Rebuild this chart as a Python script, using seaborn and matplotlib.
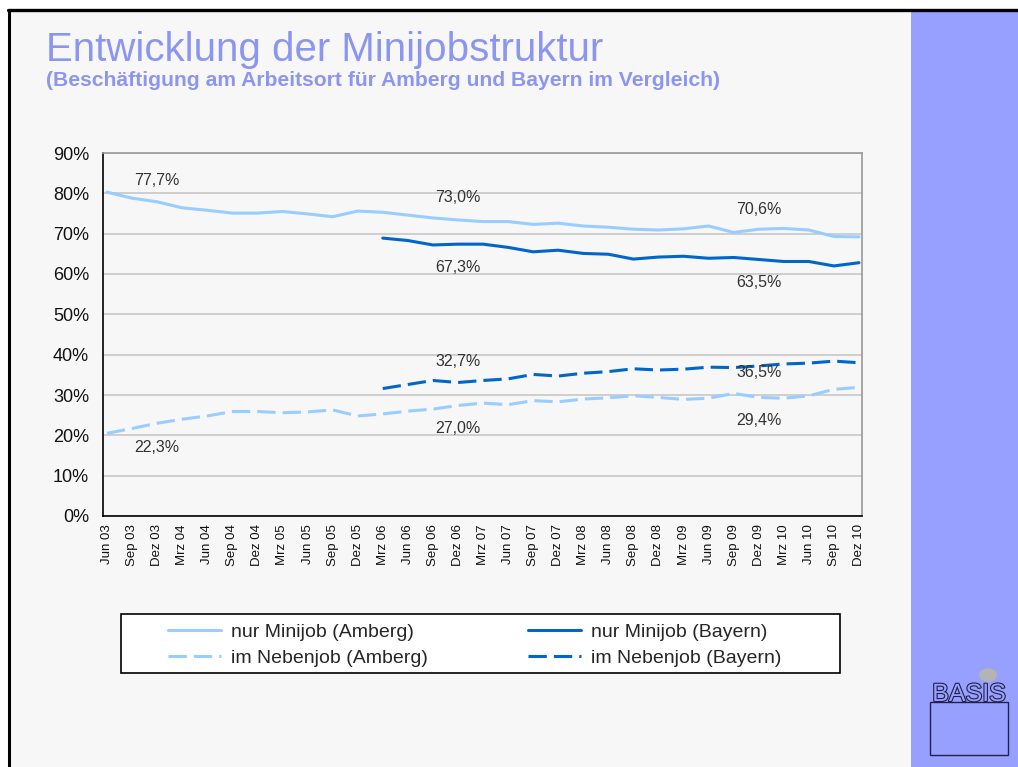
import numpy as np
import pandas as pd
import seaborn as sns
import matplotlib.pyplot as plt
import matplotlib.patheffects as pe
from matplotlib.patches import Rectangle, Circle
from matplotlib.lines import Line2D

# Quartale (Beschäftigung am Arbeitsort)
quartale = ['Jun 03', 'Sep 03', 'Dez 03',
            'Mrz 04', 'Jun 04', 'Sep 04', 'Dez 04',
            'Mrz 05', 'Jun 05', 'Sep 05', 'Dez 05',
            'Mrz 06', 'Jun 06', 'Sep 06', 'Dez 06',
            'Mrz 07', 'Jun 07', 'Sep 07', 'Dez 07',
            'Mrz 08', 'Jun 08', 'Sep 08', 'Dez 08',
            'Mrz 09', 'Jun 09', 'Sep 09', 'Dez 09',
            'Mrz 10', 'Jun 10', 'Sep 10', 'Dez 10']

# Anteile in %
nur_minijob_amberg = [80.3, 78.8, 77.9, 76.4, 75.8, 75.1, 75.1, 75.5, 74.9, 74.2,
                      75.6, 75.3, 74.6, 73.9, 73.4, 73.0, 73.0, 72.3, 72.6, 71.9,
                      71.6, 71.1, 70.9, 71.2, 71.9, 70.3, 71.1, 71.3, 70.9, 69.3, 69.2]
nebenjob_amberg = [20.5, 21.7, 23.0, 24.0, 24.8, 25.9, 25.9, 25.6, 25.8, 26.3,
                   24.8, 25.3, 26.0, 26.5, 27.4, 28.0, 27.6, 28.6, 28.3, 29.0,
                   29.3, 29.8, 29.4, 28.9, 29.2, 30.4, 29.4, 29.2, 29.8, 31.4, 31.9]
# Bayern erst ab Mrz 06
nur_minijob_bayern = [np.nan] * 11 + [68.9, 68.3, 67.2, 67.4, 67.4, 66.6, 65.5, 65.9, 65.1, 64.9,
                                      63.7, 64.2, 64.4, 63.9, 64.1, 63.6, 63.1, 63.1, 62.0, 62.8]
nebenjob_bayern = [np.nan] * 11 + [31.6, 32.6, 33.6, 33.1, 33.6, 34.0, 35.1, 34.7, 35.4, 35.8,
                                   36.5, 36.2, 36.4, 36.9, 36.8, 37.2, 37.7, 37.9, 38.4, 38.0]

# Beschriftungen: Quartal-Index und Texte je Gruppe
label_pos = [2, 14, 26]
label_oben = ['77,7%', '73,0%', '70,6%']
label_bayern_nur = ['', '67,3%', '63,5%']
label_bayern_neben = ['', '32,7%', '36,5%']
label_unten = ['22,3%', '27,0%', '29,4%']
label_y = {'oben': [83.3, 78.9, 76.1], 'bayern_nur': [0, 61.7, 58.0],
           'bayern_neben': [0, 38.2, 35.7], 'unten': [16.9, 21.8, 23.6]}

serien = ['nur Minijob (Amberg)', 'im Nebenjob (Amberg)',
          'nur Minijob (Bayern)', 'im Nebenjob (Bayern)']
df = pd.DataFrame({'q': np.arange(len(quartale)),
                   serien[0]: nur_minijob_amberg,
                   serien[1]: nebenjob_amberg,
                   serien[2]: nur_minijob_bayern,
                   serien[3]: nebenjob_bayern})
long = df.melt(id_vars='q', var_name='serie', value_name='wert').dropna()

hell = '#99ccff'
dunkel = '#0066cc'
farben = {serien[0]: hell, serien[1]: hell, serien[2]: dunkel, serien[3]: dunkel}
striche = {serien[0]: '', serien[1]: (6, 2.3), serien[2]: '', serien[3]: (6, 2.3)}

sns.set_style('white')
plt.rcParams['font.family'] = ['Liberation Sans', 'DejaVu Sans']

W, H = 1018, 767
fig = plt.figure(figsize=(W / 100, H / 100), dpi=100)
fig.patch.set_facecolor('white')

# Hintergrund / Rahmen
fig.add_artist(Rectangle((10 / W, 0), 901 / W, 1 - 10 / H, transform=fig.transFigure,
                         facecolor='#f7f7f7', edgecolor='none', zorder=-10))
fig.add_artist(Rectangle((911 / W, 0), 107 / W, 1 - 10 / H, transform=fig.transFigure,
                         facecolor='#97a0ff', edgecolor='none', zorder=-9))
fig.add_artist(Line2D([8 / W, 1], [1 - 10 / H, 1 - 10 / H], transform=fig.transFigure,
                      color='black', lw=2.4))
fig.add_artist(Line2D([9 / W, 9 / W], [0, 1 - 10 / H], transform=fig.transFigure,
                      color='black', lw=2.2))

# Titel
fig.text(46 / W, 1 - 61 / H, 'Entwicklung der Minijobstruktur', fontsize=29,
         color='#8c96f0', va='baseline', ha='left')
fig.text(46 / W, 1 - 86 / H, '(Beschäftigung am Arbeitsort für Amberg und Bayern im Vergleich)',
         fontsize=15.2, fontweight='bold', color='#8c96f0', va='baseline', ha='left')

ax = fig.add_axes([103 / W, 1 - 516 / H, 759 / W, 363 / H])
ax.set_facecolor('#f7f7f7')

sns.lineplot(data=long, x='q', y='wert', hue='serie', style='serie',
             palette=farben, dashes=striche, linewidth=2.2, ax=ax, legend=False)
for line in ax.get_lines():
    line.set_dash_capstyle('butt')

for gruppe, texte in [('oben', label_oben), ('bayern_nur', label_bayern_nur),
                      ('bayern_neben', label_bayern_neben), ('unten', label_unten)]:
    for pos, txt, yv in zip(label_pos, texte, label_y[gruppe]):
        if txt:
            ax.text(pos, yv, txt, ha='center', va='center', fontsize=11.5, color='#333333')

ax.set_xlim(-0.16, len(quartale) - 1 + 0.12)
ax.set_ylim(0, 90)
ax.set_yticks(range(0, 91, 10))
ax.set_yticklabels([f'{v}%' for v in range(0, 91, 10)], fontsize=13, color='#111111')
ax.set_xticks(range(len(quartale)))
ax.set_xticklabels(quartale, rotation=90, fontsize=9.5, color='#111111')
ax.set_xlabel('')
ax.set_ylabel('')
ax.grid(axis='y', color='#c8c8c8', linewidth=1.2)
ax.set_axisbelow(True)
ax.tick_params(axis='both', direction='out', length=4, width=1, color='black')
ax.tick_params(axis='y', pad=6)
ax.tick_params(axis='x', pad=2)
for s in ['left', 'bottom']:
    ax.spines[s].set_color('black')
    ax.spines[s].set_linewidth(1.2)
for s in ['top', 'right']:
    ax.spines[s].set_color('#999999')
    ax.spines[s].set_linewidth(1.2)

# Legende: Rahmen plus zwei Spalten
fig.add_artist(Rectangle((121 / W, 1 - 673 / H), 719 / W, 59 / H, transform=fig.transFigure,
                         facecolor='white', edgecolor='black', lw=1.2, zorder=5))
handles = [Line2D([], [], color=farben[s], lw=2.2,
                  linestyle='-' if striche[s] == '' else (0, striche[s]))
           for s in serien]
for k, x0 in enumerate([168, 528]):
    leg = fig.legend(handles[2 * k:2 * k + 2], serien[2 * k:2 * k + 2], loc='center left',
                     bbox_to_anchor=(x0 / W, 1 - 645 / H), bbox_transform=fig.transFigure,
                     fontsize=14, frameon=False, handlelength=2.75, handletextpad=0.5,
                     borderpad=0, borderaxespad=0, labelspacing=0.45)
    leg.set_zorder(6)

# Logo
fig.add_artist(Circle((988 / W, 1 - 675 / H), 9 / W, transform=fig.transFigure,
                      facecolor='#b4b4b4', edgecolor='none'))
fig.add_artist(Rectangle((930 / W, 1 - 755 / H), 78 / W, 53 / H, transform=fig.transFigure,
                         facecolor='none', edgecolor='#222244', lw=1))
fig.text(969 / W, 1 - 701 / H, 'BASIS', fontsize=18, ha='center', va='baseline',
         color='#97a0ff', fontstretch='condensed',
         path_effects=[pe.withStroke(linewidth=1.6, foreground='#222244')])

fig.savefig('out.png', dpi=100)
